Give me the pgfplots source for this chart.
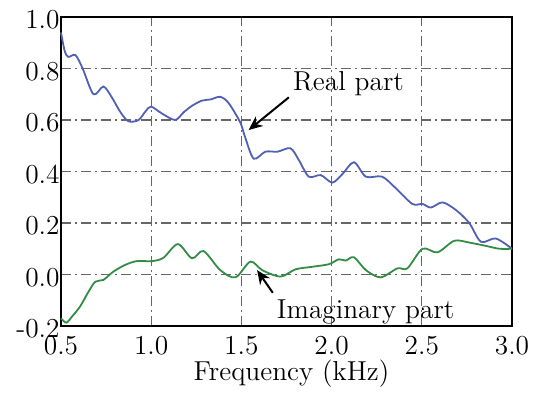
\documentclass[border=0pt]{standalone}
\usepackage{pgfplots}
\pgfplotsset{compat=1.18}
\usetikzlibrary{arrows.meta}
\definecolor{realblue}{RGB}{80,96,180}
\definecolor{imaggreen}{RGB}{50,140,70}
\newcommand{\bigf}{\fontsize{13.7}{16}\selectfont}
\begin{document}
\begin{tikzpicture}
\begin{axis}[
  scale only axis,
  width=225.5pt, height=154.5pt,
  xmin=0.5, xmax=3.0, ymin=-0.2, ymax=1.0,
  xtick={0.5,1.0,...,3.0},
  ytick={-0.2,0,0.2,0.4,0.6,0.8,1.0},
  xticklabel={\bigf\pgfmathprintnumber[fixed,fixed zerofill,precision=1,assume math mode=true]{\tick}},
  yticklabel={\bigf\pgfmathprintnumber[fixed,fixed zerofill,precision=1,assume math mode=true]{\tick}},
  major tick length=0pt,
  grid=major,
  major grid style={black!60, line width=0.6pt, dash pattern=on 5pt off 2pt on 1pt off 2pt},
  axis line style={line width=0.8pt},
  yticklabel style={inner sep=0.5pt, yshift=-1.5pt},
  xticklabel style={yshift=-1.5pt},
  xlabel={\bigf Frequency (kHz)},
  xlabel style={at={(axis description cs:0.511,0)}, anchor=base, yshift=-27pt},
  clip=false,
]
\addplot[realblue, line width=0.9pt, smooth, tension=0.5] coordinates {
(0.50,0.94) (0.52,0.87) (0.54,0.845) (0.58,0.852) (0.62,0.80) (0.68,0.70)
(0.735,0.73) (0.78,0.69) (0.83,0.63) (0.874,0.595) (0.93,0.60) (0.97,0.635)
(1.00,0.652) (1.06,0.625) (1.133,0.60) (1.18,0.63) (1.226,0.655) (1.28,0.675)
(1.33,0.68) (1.383,0.69) (1.43,0.665) (1.494,0.59) (1.52,0.535) (1.568,0.45)
(1.633,0.477) (1.70,0.477) (1.772,0.49) (1.818,0.445) (1.874,0.38) (1.94,0.386)
(2.004,0.357) (2.06,0.39) (2.124,0.436) (2.19,0.38) (2.28,0.38) (2.356,0.335)
(2.448,0.274) (2.504,0.274) (2.55,0.26) (2.615,0.28) (2.69,0.25) (2.763,0.20)
(2.828,0.127) (2.91,0.14) (3.00,0.10)
};
\addplot[imaggreen, line width=0.9pt, smooth, tension=0.5] coordinates {
(0.50,-0.17) (0.53,-0.187) (0.565,-0.16) (0.605,-0.125) (0.65,-0.07) (0.69,-0.028)
(0.735,-0.021) (0.79,0.011) (0.855,0.037) (0.92,0.052) (1.004,0.052) (1.068,0.065)
(1.148,0.118) (1.226,0.063) (1.29,0.091) (1.383,0.017) (1.467,-0.011) (1.55,0.05)
(1.615,0.017) (1.717,-0.008) (1.80,0.02) (1.893,0.03) (1.985,0.04) (2.04,0.059)
(2.078,0.054) (2.124,0.067) (2.19,0.017) (2.272,-0.011) (2.365,0.024) (2.42,0.024)
(2.504,0.10) (2.587,0.086) (2.68,0.131) (2.763,0.124) (2.856,0.111) (2.93,0.10)
(3.00,0.10)
};
\node[anchor=base, inner sep=0pt, font=\bigf] at (axis cs:2.094,0.714) {Real part};
\node[anchor=base, inner sep=0pt, font=\bigf] at (axis cs:2.189,-0.169) {Imaginary part};
\draw[-{Stealth[length=7pt,width=6pt]}, line width=1pt] (axis cs:1.763,0.688) -- (axis cs:1.54,0.561);
\draw[-{Stealth[length=7pt,width=6pt]}, line width=1pt] (axis cs:1.674,-0.071) -- (axis cs:1.587,0.017);
\coordinate (ll) at (rel axis cs:0,0);
\coordinate (ur) at (rel axis cs:1,1);
\end{axis}
\useasboundingbox ([shift={(-30.5pt,-30pt)}]ll) rectangle ([shift={(15pt,8.5pt)}]ur);
\end{tikzpicture}
\end{document}
